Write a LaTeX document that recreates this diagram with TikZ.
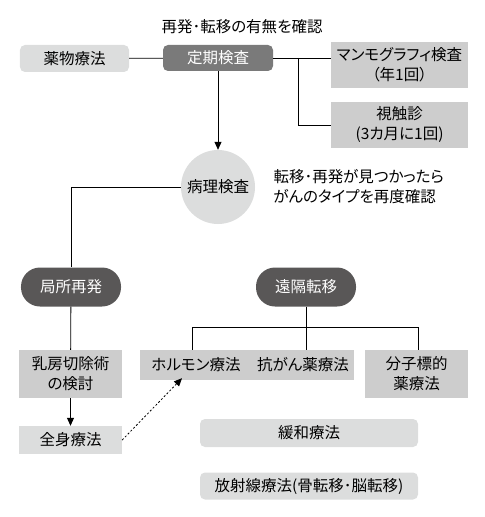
\documentclass[tikz,border=0pt]{standalone}
\usepackage{fontspec}
\setmainfont{Noto Sans CJK JP}[RawFeature=+palt]
\usetikzlibrary{arrows.meta}
\definecolor{lightgr}{HTML}{DCDDDD}
\definecolor{midgr}{HTML}{CDCDCD}
\definecolor{darkgr}{HTML}{7A7A7A}
\definecolor{deepgr}{HTML}{595757}
\tikzset{
  lbox/.style={
    fill=lightgr,
    rounded corners=5bp,
    minimum height=27bp,
    inner sep=0pt,
  },
  dbox/.style={
    fill=darkgr,
    text=white,
    rounded corners=5bp,
    minimum height=26bp,
    inner sep=0pt,
  },
  rect/.style={
    fill=midgr,
    align=center,
    inner sep=0pt,
  },
  pill/.style={
    fill=deepgr,
    text=white,
    rounded corners=19bp,
    minimum width=100bp,
    minimum height=39bp,
    inner sep=0pt,
  },
  circ/.style={
    fill=lightgr,
    circle,
    minimum size=74bp,
    inner sep=0pt,
  },
  link/.style={
    line width=0.8pt,
  },
  arr/.style={
    line width=0.8pt,
    -{Triangle[length=8bp,width=7bp]},
  },
}

\begin{document}
\begin{tikzpicture}[x=1bp,y=-1bp,font=\fontsize{15.5bp}{20bp}\selectfont]
  \useasboundingbox (0,0) rectangle (485,517);

  \node (title) at (242,27) {再発･転移の有無を確認};
  \node[lbox, minimum width=109bp] (drug) at (74.5,58.5) {薬物療法};
  \node[dbox, minimum width=110bp] (teiki) at (218,58) {定期検査};
  \node[rect, minimum width=137bp, minimum height=46bp] (mammo) at (399.5,65)
    {マンモグラフィ検査\\（年1回）};
  \node[rect, minimum width=137bp, minimum height=46bp] (shoku) at (399.5,125)
    {視触診\\(3カ月に1回)};

  \node[circ] (byori) at (218,187) {病理検査};
  \node[anchor=west, align=left] (note) at (270,187)
    {転移･再発が見つかったら\\がんのタイプを再度確認};

  \node[pill] (kyoku) at (71,287) {局所再発};
  \node[pill] (enkaku) at (306,287) {遠隔転移};

  \node[rect, minimum width=103bp, minimum height=48bp] (nyubo) at (70.5,374)
    {乳房切除術\\の検討};
  \node[rect, minimum width=112bp, minimum height=30bp] (hormone) at (196,365)
    {ホルモン療法};
  \node[rect, minimum width=102bp, minimum height=30bp] (kogan) at (303,365)
    {抗がん薬療法};
  \node[rect, minimum width=103bp, minimum height=48bp] (bunshi) at (416.5,374)
    {分子標的\\薬療法};
  \node[rect, fill=lightgr, minimum width=103bp, minimum height=28bp] (zenshin) at (70.5,440)
    {全身療法};
  \node[lbox, minimum width=218bp, minimum height=28bp] (kanwa) at (309,433) {緩和療法};
  \node[lbox, minimum width=218bp] (hosha) at (309,486) {放射線療法(骨転移･脳転移)};

  % connectors
  \draw[link] (drug) -- (teiki);
  \draw[link] (teiki.east) -- (teiki.east -| mammo.west);
  \coordinate (br) at (298,58);
  \draw[link] (br) |- (shoku.west);
  \draw[arr] (teiki) -- (byori);
  \draw[link] (byori.west) -| (kyoku.north);
  \draw[link] (kyoku) -- (nyubo);
  \coordinate (fork) at (306,327);
  \draw[link] (enkaku) -- (fork);
  \draw[link] (fork) -| ([xshift=-4bp]hormone.north);
  \draw[link] (fork) -- (kogan.north -| fork);
  \draw[link] (fork) -| ([xshift=1.5bp]bunshi.north);
  \draw[arr] (nyubo) -- (zenshin);
  \draw[arr, dash pattern=on 2bp off 2bp] (zenshin.east) -- ([xshift=-14bp,yshift=2bp]hormone.south);
\end{tikzpicture}
\end{document}
